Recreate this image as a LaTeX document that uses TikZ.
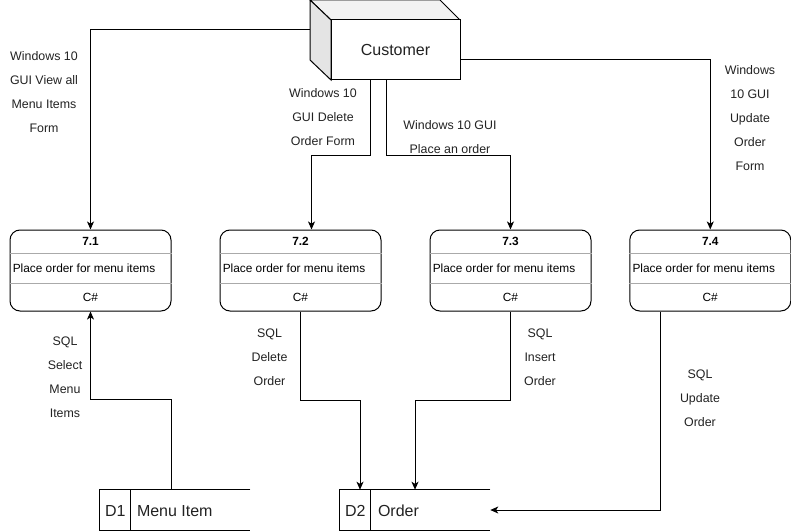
\documentclass[tikz,border=0pt]{standalone}
\usepackage{fontspec}
\setmainfont{Liberation Sans}
\usepackage{xcolor}
\usepackage{tikz}
\usetikzlibrary{calc,arrows.meta}

\definecolor{cubetop}{RGB}{242,242,242}
\definecolor{cubeside}{RGB}{228,228,228}
\definecolor{sepgray}{RGB}{170,170,170}
\definecolor{txtgray}{RGB}{34,34,34}

\tikzset{
  flow/.style={draw, line width=0.75pt, -{Stealth[length=6pt,width=5.2pt,inset=1.6pt]}},
  proc/.style={draw, line width=0.75pt, rounded corners=7.5pt, minimum width=120.75pt, minimum height=60.75pt, inner sep=0pt},
  store/.style={minimum width=112.5pt, minimum height=30pt, inner sep=0pt},
  sep/.style={draw=sepgray, line width=0.75pt},
  lbl/.style={align=center, inner sep=0.75pt, text=txtgray, font=\fontsize{9.3}{18}\selectfont},
  pnum/.style={inner sep=0.75pt, font=\fontsize{8.9}{10}\selectfont\bfseries},
  ptext/.style={inner sep=0.75pt, font=\fontsize{8.9}{10}\selectfont},
}

\begin{document}
\begin{tikzpicture}[x=0.75pt,y=0.75pt,yscale=-1,xscale=1]
\path[use as bounding box] (0,0) rectangle (791,531);

%Cube [Customer]
\draw[line width=0.75pt, fill=cubetop] (310,0) -- (440,0) -- (460,20) -- (331,20) -- cycle;
\draw[line width=0.75pt, fill=cubeside] (310,0) -- (331,20) -- (331,80) -- (310,60) -- cycle;
\node[draw, line width=0.75pt, fill=white, minimum width=96.75pt, minimum height=45pt, inner sep=0pt, font=\fontsize{12}{14}\selectfont, text=txtgray] (cust) at (395.5,50) {Customer};
\coordinate (custL) at (310,30);
\coordinate (custR) at ([yshift=7.5pt]cust.east);
\coordinate (c2) at (370,80);
\coordinate (c3) at (386,80);

%Processes
\node[proc] (p1) at (90.5,270.5) {};
\node[proc] (p2) at (300.5,270.5) {};
\node[proc] (p3) at (510.5,270.5) {};
\node[proc] (p4) at (710.25,270.5) {};

%Separators
\draw[sep] ($(p1.north west)+(0,24)$) -- ($(p1.north east)+(0,24)$);
\draw[sep] ($(p1.north west)+(0,54)$) -- ($(p1.north east)+(0,54)$);
\draw[sep] ($(p2.north west)+(0,24)$) -- ($(p2.north east)+(0,24)$);
\draw[sep] ($(p2.north west)+(0,54)$) -- ($(p2.north east)+(0,54)$);
\draw[sep] ($(p3.north west)+(0,24)$) -- ($(p3.north east)+(0,24)$);
\draw[sep] ($(p3.north west)+(0,54)$) -- ($(p3.north east)+(0,54)$);
\draw[sep] ($(p4.north west)+(0,24)$) -- ($(p4.north east)+(0,24)$);
\draw[sep] ($(p4.north west)+(0,54)$) -- ($(p4.north east)+(0,54)$);

% Process Text
\node[pnum] (p1n) at ($(p1.north)+(0,11.5)$) {7.1};
\node[ptext, anchor=west] (p1t) at ($(p1.west)+(2,-2.5)$) {Place order for menu items};
\node[ptext] (p1c) at ($(p1.south)+(0,-14)$) {C\#};
\node[pnum] (p2n) at ($(p2.north)+(0,11.5)$) {7.2};
\node[ptext, anchor=west] (p2t) at ($(p2.west)+(2,-2.5)$) {Place order for menu items};
\node[ptext] (p2c) at ($(p2.south)+(0,-14)$) {C\#};
\node[pnum] (p3n) at ($(p3.north)+(0,11.5)$) {7.3};
\node[ptext, anchor=west] (p3t) at ($(p3.west)+(2,-2.5)$) {Place order for menu items};
\node[ptext] (p3c) at ($(p3.south)+(0,-14)$) {C\#};
\node[pnum] (p4n) at ($(p4.north)+(0,11.5)$) {7.4};
\node[ptext, anchor=west] (p4t) at ($(p4.west)+(2,-2.5)$) {Place order for menu items};
\node[ptext] (p4c) at ($(p4.south)+(0,-14)$) {C\#};

%Data Stores
\node[store] (d1) at (175,510) {};
\draw[line width=0.75pt] (d1.north east) -- (d1.north west) -- (d1.south west) -- (d1.south east);
\draw[line width=0.75pt] ([xshift=23.25pt]d1.north west) -- ([xshift=23.25pt]d1.south west);
\node[inner sep=0.75pt, font=\fontsize{12}{14}\selectfont, text=txtgray] (d1id) at ($(d1.west)+(15.5,1)$) {D1};
\node[inner sep=0.75pt, anchor=west, font=\fontsize{12}{14}\selectfont, text=txtgray] (d1t) at ($(d1.west)+(36,1)$) {Menu Item};
\node[store] (d2) at (415,510) {};
\draw[line width=0.75pt] (d2.north east) -- (d2.north west) -- (d2.south west) -- (d2.south east);
\draw[line width=0.75pt] ([xshift=23.25pt]d2.north west) -- ([xshift=23.25pt]d2.south west);
\node[inner sep=0.75pt, font=\fontsize{12}{14}\selectfont, text=txtgray] (d2id) at ($(d2.west)+(15.5,1)$) {D2};
\node[inner sep=0.75pt, anchor=west, font=\fontsize{12}{14}\selectfont, text=txtgray] (d2t) at ($(d2.west)+(37,1)$) {Order};

%Flows from Customer
\draw[flow] (custL) -| (p1.north);
\draw[flow] (c2) -- ++(0,75) -| ([xshift=8.25pt]p2.north);
\draw[flow] (c3) -- ++(0,75) -| (p3.north);
\draw[flow] (custR) -| (p4.north);

%Flows with Data Stores
\draw[flow] ([xshift=-3pt]d1.north) -- ++(0,-90) -| (p1.south);
\draw[flow] (p2.south) -- ++(0,89) -| ([xshift=-41.25pt]d2.north);
\draw[flow] (p3.south) -- ++(0,89) -| (d2.north);
\draw[flow] ([xshift=-37.5pt]p4.south) |- (d2.east);

% Text Node
\node[lbl] (l1) at (44,92.5) {Windows 10\\GUI View all\\Menu Items\\Form};
% Text Node
\node[lbl] (l2) at (323,117.5) {Windows 10\\GUI Delete\\Order Form};
% Text Node
\node[lbl] (l3) at (450,137.5) {Windows 10 GUI\\Place an order};
% Text Node
\node[lbl] (l4) at (750,118) {Windows\\10 GUI\\Update\\Order\\Form};
% Text Node
\node[lbl] (l5) at (65,377.5) {SQL\\Select\\Menu\\Items};
% Text Node
\node[lbl] (l6) at (269.5,357.5) {SQL\\Delete\\Order};
% Text Node
\node[lbl] (l7) at (540,357.5) {SQL\\Insert\\Order};
% Text Node
\node[lbl] (l8) at (700,398) {SQL\\Update\\Order};
\end{tikzpicture}
\end{document}
